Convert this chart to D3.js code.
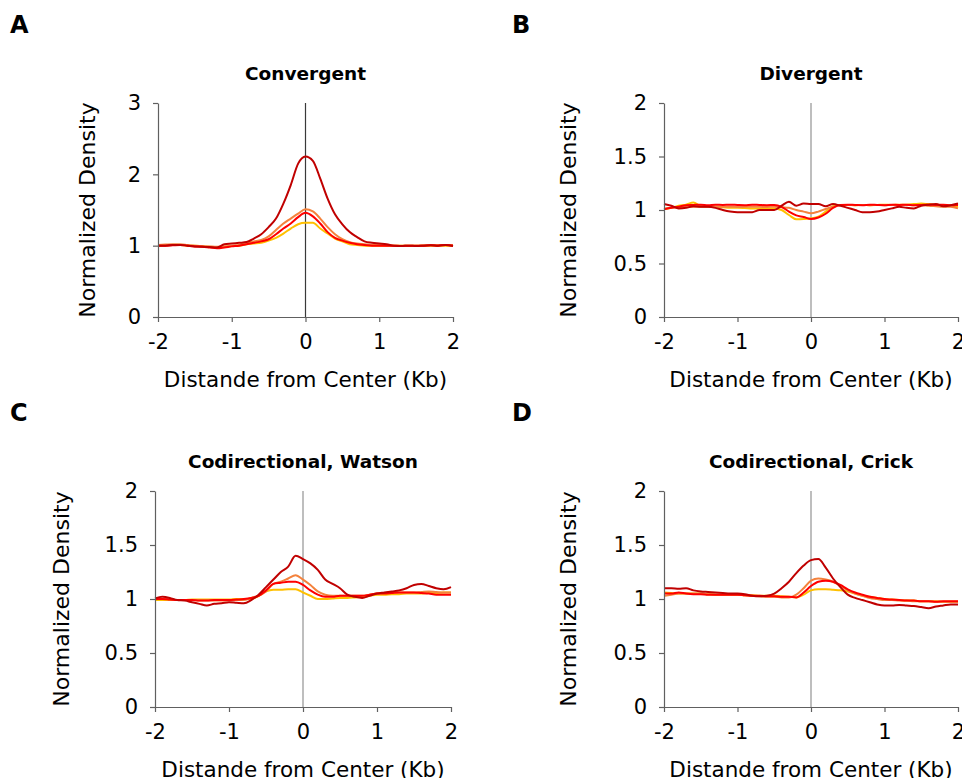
<!DOCTYPE html>
<html>
<head>
<meta charset="utf-8">
<script src="https://cdn.jsdelivr.net/npm/d3@7"></script>
<style>
body { margin: 0; background: #fff; }
text { font-family: "DejaVu Sans", sans-serif; }
</style>
</head>
<body>
<svg id="fig" width="962" height="778"></svg>
<script>
// distance from center (Kb)
var kb = [-2,-1.9,-1.8,-1.7,-1.6,-1.5,-1.4,-1.3,-1.2,-1.1,-1,-0.9,-0.8,-0.7,-0.6,-0.5,-0.4,-0.3,-0.2,-0.1,
	0,0.1,0.2,0.3,0.4,0.5,0.6,0.7,0.8,0.9,1,1.1,1.2,1.3,1.4,1.5,1.6,1.7,1.8,1.9,2];
var xTicks = [-2,-1,0,1,2];

// A - convergent
var convYellow = [1.00,1.01,1.01,1.01,1.00,1.00,0.99,0.985,0.98,0.985,0.995,1.00,1.02,1.03,1.04,1.07,1.11,1.17,1.24,1.30,
	1.32,1.32,1.24,1.17,1.10,1.06,1.02,1.01,1.00,1.00,1.00,1.00,1.00,1.00,1.00,1.00,1.00,1.00,1.00,1.00,1.00];
var convOrange = [1.01,1.015,1.02,1.02,1.01,1.00,0.995,0.99,0.985,0.99,1.00,1.01,1.04,1.06,1.08,1.13,1.22,1.31,1.38,1.45,
	1.51,1.48,1.38,1.26,1.16,1.09,1.05,1.03,1.02,1.01,1.01,1.00,1.00,1.00,1.00,1.00,1.005,1.01,1.01,1.01,1.01];
var convRed = [1.00,1.00,1.005,1.01,1.00,0.99,0.985,0.975,0.965,0.975,0.99,1.00,1.02,1.04,1.06,1.09,1.16,1.24,1.31,1.40,
	1.46,1.41,1.31,1.19,1.11,1.07,1.04,1.02,1.01,1.00,1.00,1.00,1.00,0.995,1.00,1.00,1.00,1.005,1.00,1.01,1.00];
var convDarkRed = [1.00,1.00,1.01,1.01,1.00,0.99,0.985,0.98,0.975,1.02,1.03,1.04,1.05,1.10,1.16,1.26,1.38,1.59,1.85,2.15,
	2.25,2.19,1.94,1.66,1.44,1.30,1.19,1.12,1.06,1.04,1.03,1.02,1.00,0.995,1.00,0.995,1.00,1.005,1.00,1.01,0.995];

// B - divergent
var divYellow = [1.006,1.02,1.04,1.05,1.07,1.035,1.028,1.03,1.025,1.02,1.02,1.018,1.015,1.015,1.015,1.015,1.00,0.953,0.913,0.915,
	0.922,0.938,0.985,1.035,1.047,1.047,1.045,1.047,1.045,1.047,1.05,1.047,1.05,1.05,1.055,1.06,1.055,1.05,1.045,1.04,1.03];
var divOrange = [1.015,1.02,1.025,1.03,1.031,1.031,1.028,1.031,1.03,1.031,1.028,1.03,1.031,1.03,1.028,1.031,1.025,1.02,1.00,0.985,
	0.969,0.985,1.01,1.03,1.047,1.047,1.045,1.047,1.045,1.047,1.045,1.047,1.045,1.047,1.045,1.047,1.04,1.035,1.03,1.03,1.015];
var divRed = [1.006,1.02,1.03,1.045,1.047,1.05,1.045,1.05,1.047,1.05,1.047,1.045,1.05,1.047,1.045,1.047,1.03,0.985,0.95,0.935,
	0.916,0.93,0.965,1.02,1.047,1.05,1.047,1.045,1.05,1.047,1.045,1.05,1.047,1.05,1.045,1.047,1.05,1.047,1.05,1.045,1.047];
var divDarkRed = [1.056,1.04,1.015,1.02,1.035,1.03,1.03,1.02,1.00,0.985,0.978,0.978,0.98,1.00,1.00,1.00,1.04,1.078,1.04,1.06,
	1.056,1.056,1.035,1.056,1.04,1.02,1.00,0.98,0.978,0.985,1.00,1.015,1.03,1.02,1.015,1.04,1.05,1.056,1.035,1.045,1.062];

// C - codirectional, Watson
var watYellow = [0.99,0.99,0.99,0.99,0.99,0.995,0.995,0.995,0.995,0.995,0.995,1.00,1.00,1.00,1.03,1.07,1.085,1.085,1.09,1.09,
	1.06,1.03,1.00,1.00,1.005,1.01,1.01,1.015,1.02,1.03,1.04,1.04,1.045,1.045,1.05,1.05,1.05,1.055,1.055,1.06,1.06];
var watOrange = [1.00,1.00,0.995,0.99,0.99,0.99,0.985,0.985,0.985,0.985,0.985,0.99,0.99,1.01,1.03,1.07,1.14,1.16,1.19,1.22,
	1.18,1.13,1.07,1.04,1.03,1.03,1.03,1.03,1.03,1.04,1.05,1.055,1.06,1.06,1.06,1.06,1.065,1.07,1.065,1.06,1.06];
var watRed = [1.00,1.00,0.995,0.99,0.99,0.99,0.985,0.985,0.99,0.99,0.99,0.995,1.00,1.01,1.03,1.08,1.14,1.15,1.16,1.16,
	1.13,1.08,1.04,1.02,1.02,1.03,1.03,1.03,1.03,1.04,1.05,1.05,1.055,1.06,1.06,1.06,1.055,1.05,1.04,1.04,1.04];
var watDarkRed = [1.006,1.02,1.01,0.99,0.985,0.97,0.955,0.94,0.955,0.96,0.97,0.965,0.96,0.99,1.04,1.11,1.18,1.25,1.30,1.40,
	1.37,1.33,1.27,1.18,1.14,1.10,1.04,1.02,1.01,1.03,1.05,1.06,1.07,1.08,1.10,1.13,1.14,1.12,1.10,1.09,1.11];

// D - codirectional, Crick
var crickYellow = [1.06,1.055,1.05,1.05,1.05,1.05,1.045,1.04,1.04,1.04,1.04,1.035,1.035,1.03,1.03,1.03,1.025,1.02,1.015,1.04,
	1.08,1.09,1.09,1.085,1.08,1.07,1.05,1.03,1.02,1.01,1.00,0.995,0.99,0.985,0.985,0.98,0.98,0.98,0.975,0.975,0.975];
var crickOrange = [1.03,1.04,1.05,1.05,1.05,1.05,1.045,1.04,1.04,1.04,1.04,1.035,1.03,1.025,1.02,1.02,1.015,1.015,1.04,1.10,
	1.17,1.19,1.18,1.16,1.12,1.08,1.05,1.03,1.01,1.00,0.99,0.99,0.985,0.985,0.98,0.98,0.98,0.975,0.975,0.975,0.975];
var crickRed = [1.05,1.05,1.06,1.05,1.045,1.045,1.04,1.04,1.04,1.04,1.04,1.035,1.03,1.03,1.025,1.025,1.02,1.02,1.015,1.06,
	1.12,1.16,1.17,1.16,1.13,1.09,1.06,1.04,1.02,1.01,1.00,0.995,0.99,0.985,0.985,0.98,0.98,0.975,0.98,0.98,0.98];
var crickDarkRed = [1.10,1.10,1.095,1.10,1.08,1.07,1.065,1.06,1.055,1.05,1.05,1.045,1.03,1.025,1.03,1.05,1.10,1.16,1.24,1.31,
	1.36,1.37,1.29,1.19,1.11,1.04,1.01,0.99,0.97,0.95,0.94,0.94,0.945,0.94,0.935,0.925,0.915,0.93,0.94,0.95,0.95];

var lineColors = ["#FFC000", "#F4823C", "#FF0000", "#C00000"];

var svg = d3.select("#fig");

var panels = [
	{letter: "A", title: "Convergent", yTicks: [0,1,2,3], ymax: 3,
		series: [convYellow, convOrange, convRed, convDarkRed],
		left: 158, right: 453, top: 103, bottom: 317, ylabX: 95, zero: "#3a3a3a", zeroW: 1.2},
	{letter: "B", title: "Divergent", yTicks: [0,0.5,1,1.5,2], ymax: 2,
		series: [divYellow, divOrange, divRed, divDarkRed],
		left: 664, right: 958, top: 103, bottom: 317, ylabX: 576, zero: "#a8a8a8", zeroW: 1.5},
	{letter: "C", title: "Codirectional, Watson", yTicks: [0,0.5,1,1.5,2], ymax: 2,
		series: [watYellow, watOrange, watRed, watDarkRed],
		left: 155, right: 451, top: 491, bottom: 707, ylabX: 69, zero: "#a8a8a8", zeroW: 1.5},
	{letter: "D", title: "Codirectional, Crick", yTicks: [0,0.5,1,1.5,2], ymax: 2,
		series: [crickYellow, crickOrange, crickRed, crickDarkRed],
		left: 664, right: 958, top: 491, bottom: 707, ylabX: 576, zero: "#a8a8a8", zeroW: 1.5}
];

function drawPanel(p, k) {
	var x = d3.scaleLinear().domain([-2, 2]).range([p.left, p.right]);
	var y = d3.scaleLinear().domain([0, p.ymax]).range([p.bottom, p.top]);
	var g = svg.append("g");
	var col = k % 2;

	// panel letter + title
	g.append("text").text(p.letter)
		.attr("x", col == 0 ? 10 : 512)
		.attr("y", p.top - 70)
		.style("font-weight", "bold").style("font-size", "24px");
	g.append("text").text(p.title)
		.attr("x", x(0)).attr("y", p.top - 23)
		.attr("text-anchor", "middle")
		.style("font-weight", "bold").style("font-size", "18.5px");

	// line at center
	g.append("line")
		.attr("x1", x(0)).attr("x2", x(0))
		.attr("y1", y(p.ymax)).attr("y2", y(0))
		.attr("stroke", p.zero).attr("stroke-width", p.zeroW);

	var line = d3.line()
		.x(function(d, i) { return x(kb[i]); })
		.y(function(d) { return y(d); })
		.curve(d3.curveMonotoneX);

	p.series.forEach(function(s, i) {
		g.append("path").datum(s)
			.attr("d", line)
			.attr("fill", "none")
			.attr("stroke", lineColors[i])
			.attr("stroke-width", 2)
			.attr("stroke-linejoin", "round");
	});

	var xAxis = d3.axisBottom(x).tickValues(xTicks).tickSize(5).tickSizeOuter(0).tickPadding(12)
		.tickFormat(function(d) { return String(d); });
	var yAxis = d3.axisLeft(y).tickValues(p.yTicks).tickSize(5).tickSizeOuter(0).tickPadding(12)
		.tickFormat(function(d) { return String(d); });

	var gx = g.append("g").attr("transform", "translate(0," + p.bottom + ")").call(xAxis);
	var gy = g.append("g").attr("transform", "translate(" + p.left + ",0)").call(yAxis);
	[gx, gy].forEach(function(a) {
		a.select(".domain").attr("stroke", "#606060").attr("stroke-width", 1.2);
		a.selectAll(".tick line").attr("stroke", "#606060").attr("stroke-width", 1.2);
		a.selectAll(".tick text").attr("fill", "#000")
			.style("font-family", "DejaVu Sans").style("font-size", "21px");
	});

	// axis titles
	g.append("text").text("Distande from Center (Kb)")
		.attr("x", x(0)).attr("y", p.bottom + 70)
		.attr("text-anchor", "middle").style("font-size", "21.5px");
	g.append("text").text("Normalized Density")
		.attr("transform", "translate(" + p.ylabX + "," + ((p.top + p.bottom) / 2) + ") rotate(-90)")
		.attr("text-anchor", "middle").style("font-size", "22px");
}

panels.forEach(drawPanel);
</script>
</body>
</html>
